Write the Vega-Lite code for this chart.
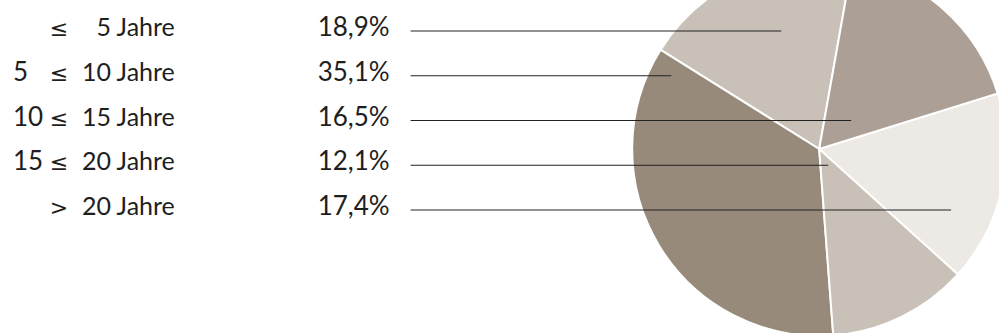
{
  "$schema": "https://vega.github.io/schema/vega-lite/v6.json",
  "width": 999,
  "height": 333,
  "padding": 0,
  "autosize": {"type": "none"},
  "background": "white",
  "config": {"view": {"stroke": null}},
  "datasets": {
    "rows": [
      {"kategorie": "≤ 5 Jahre", "von": "", "op": "≤", "bis": "5 Jahre", "anteil": 18.9, "text": "18,9%"},
      {"kategorie": "5 ≤ 10 Jahre", "von": "5", "op": "≤", "bis": "10 Jahre", "anteil": 35.1, "text": "35,1%"},
      {"kategorie": "10 ≤ 15 Jahre", "von": "10", "op": "≤", "bis": "15 Jahre", "anteil": 16.5, "text": "16,5%"},
      {"kategorie": "15 ≤ 20 Jahre", "von": "15", "op": "≤", "bis": "20 Jahre", "anteil": 12.1, "text": "12,1%"},
      {"kategorie": "> 20 Jahre", "von": "", "op": ">", "bis": "20 Jahre", "anteil": 17.4, "text": "17,4%"}
    ]
  },
  "data": {"name": "rows"},
  "resolve": {"scale": {"y": "independent"}},
  "layer": [
    {
      "transform": [{"calculate": "indexof(['> 20 Jahre', '10 ≤ 15 Jahre', '15 ≤ 20 Jahre', '5 ≤ 10 Jahre', '≤ 5 Jahre'], datum.kategorie)", "as": "reihenfolge"}],
      "mark": {"type": "arc", "outerRadius": 187, "stroke": "white", "strokeWidth": 2},
      "encoding": {
        "x": {"datum": 820, "type": "quantitative", "scale": {"domain": [0, 999], "range": [0, 999]}, "axis": null},
        "y": {"datum": 149, "type": "quantitative", "scale": {"domain": [0, 333], "range": [0, 333]}, "axis": null},
        "theta": {"field": "anteil", "type": "quantitative", "stack": true, "scale": {"range": [0.176, 6.459]}},
        "order": {"field": "reihenfolge", "type": "quantitative"},
        "color": {
          "field": "kategorie", "type": "nominal", "legend": null,
          "scale": {
            "domain": ["> 20 Jahre", "10 ≤ 15 Jahre", "15 ≤ 20 Jahre", "5 ≤ 10 Jahre", "≤ 5 Jahre"],
            "range": ["#ab9f96", "#ede9e5", "#c9c0b7", "#978a7b", "#c9c0b7"]
          }
        }
      }
    },
    {
      "transform": [{"filter": "datum.kategorie === '≤ 5 Jahre'"}],
      "mark": {"type": "rule", "color": "#222222", "strokeWidth": 1},
      "encoding": {
        "y": {"field": "kategorie", "type": "nominal", "axis": null, "scale": {"type": "point", "padding": 0, "domain": ["≤ 5 Jahre", "5 ≤ 10 Jahre", "10 ≤ 15 Jahre", "15 ≤ 20 Jahre", "> 20 Jahre"], "range": [31, 210]}},
        "x": {"datum": 411, "type": "quantitative"},
        "x2": {"datum": 782}
      }
    },
    {
      "transform": [{"filter": "datum.kategorie === '5 ≤ 10 Jahre'"}],
      "mark": {"type": "rule", "color": "#222222", "strokeWidth": 1},
      "encoding": {
        "y": {"field": "kategorie", "type": "nominal", "axis": null, "scale": {"type": "point", "padding": 0, "domain": ["≤ 5 Jahre", "5 ≤ 10 Jahre", "10 ≤ 15 Jahre", "15 ≤ 20 Jahre", "> 20 Jahre"], "range": [31, 210]}},
        "x": {"datum": 411, "type": "quantitative"},
        "x2": {"datum": 672}
      }
    },
    {
      "transform": [{"filter": "datum.kategorie === '10 ≤ 15 Jahre'"}],
      "mark": {"type": "rule", "color": "#222222", "strokeWidth": 1},
      "encoding": {
        "y": {"field": "kategorie", "type": "nominal", "axis": null, "scale": {"type": "point", "padding": 0, "domain": ["≤ 5 Jahre", "5 ≤ 10 Jahre", "10 ≤ 15 Jahre", "15 ≤ 20 Jahre", "> 20 Jahre"], "range": [31, 210]}},
        "x": {"datum": 411, "type": "quantitative"},
        "x2": {"datum": 852}
      }
    },
    {
      "transform": [{"filter": "datum.kategorie === '15 ≤ 20 Jahre'"}],
      "mark": {"type": "rule", "color": "#222222", "strokeWidth": 1},
      "encoding": {
        "y": {"field": "kategorie", "type": "nominal", "axis": null, "scale": {"type": "point", "padding": 0, "domain": ["≤ 5 Jahre", "5 ≤ 10 Jahre", "10 ≤ 15 Jahre", "15 ≤ 20 Jahre", "> 20 Jahre"], "range": [31, 210]}},
        "x": {"datum": 411, "type": "quantitative"},
        "x2": {"datum": 829}
      }
    },
    {
      "transform": [{"filter": "datum.kategorie === '> 20 Jahre'"}],
      "mark": {"type": "rule", "color": "#222222", "strokeWidth": 1},
      "encoding": {
        "y": {"field": "kategorie", "type": "nominal", "axis": null, "scale": {"type": "point", "padding": 0, "domain": ["≤ 5 Jahre", "5 ≤ 10 Jahre", "10 ≤ 15 Jahre", "15 ≤ 20 Jahre", "> 20 Jahre"], "range": [31, 210]}},
        "x": {"datum": 411, "type": "quantitative"},
        "x2": {"datum": 952}
      }
    },
    {
      "mark": {"type": "text", "align": "left", "baseline": "alphabetic", "dy": 5, "font": "Lato", "fontSize": 26, "color": "#1e1e1e"},
      "encoding": {
        "y": {"field": "kategorie", "type": "nominal", "axis": null, "scale": {"type": "point", "padding": 0, "domain": ["≤ 5 Jahre", "5 ≤ 10 Jahre", "10 ≤ 15 Jahre", "15 ≤ 20 Jahre", "> 20 Jahre"], "range": [31, 210]}},
        "x": {"datum": 13, "type": "quantitative"},
        "text": {"field": "von"}
      }
    },
    {
      "mark": {"type": "text", "align": "center", "baseline": "alphabetic", "dy": 5, "font": "DejaVu Sans", "fontSize": 22, "color": "#1e1e1e"},
      "encoding": {
        "y": {"field": "kategorie", "type": "nominal", "axis": null, "scale": {"type": "point", "padding": 0, "domain": ["≤ 5 Jahre", "5 ≤ 10 Jahre", "10 ≤ 15 Jahre", "15 ≤ 20 Jahre", "> 20 Jahre"], "range": [31, 210]}},
        "x": {"datum": 59, "type": "quantitative"},
        "text": {"field": "op"}
      }
    },
    {
      "mark": {"type": "text", "align": "right", "baseline": "alphabetic", "dy": 5, "font": "Lato", "fontSize": 25, "color": "#1e1e1e"},
      "encoding": {
        "y": {"field": "kategorie", "type": "nominal", "axis": null, "scale": {"type": "point", "padding": 0, "domain": ["≤ 5 Jahre", "5 ≤ 10 Jahre", "10 ≤ 15 Jahre", "15 ≤ 20 Jahre", "> 20 Jahre"], "range": [31, 210]}},
        "x": {"datum": 175, "type": "quantitative"},
        "text": {"field": "bis"}
      }
    },
    {
      "mark": {"type": "text", "align": "right", "baseline": "alphabetic", "dy": 5, "font": "Lato", "fontSize": 26, "color": "#1e1e1e"},
      "encoding": {
        "y": {"field": "kategorie", "type": "nominal", "axis": null, "scale": {"type": "point", "padding": 0, "domain": ["≤ 5 Jahre", "5 ≤ 10 Jahre", "10 ≤ 15 Jahre", "15 ≤ 20 Jahre", "> 20 Jahre"], "range": [31, 210]}},
        "x": {"datum": 390, "type": "quantitative"},
        "text": {"field": "text"}
      }
    }
  ]
}
